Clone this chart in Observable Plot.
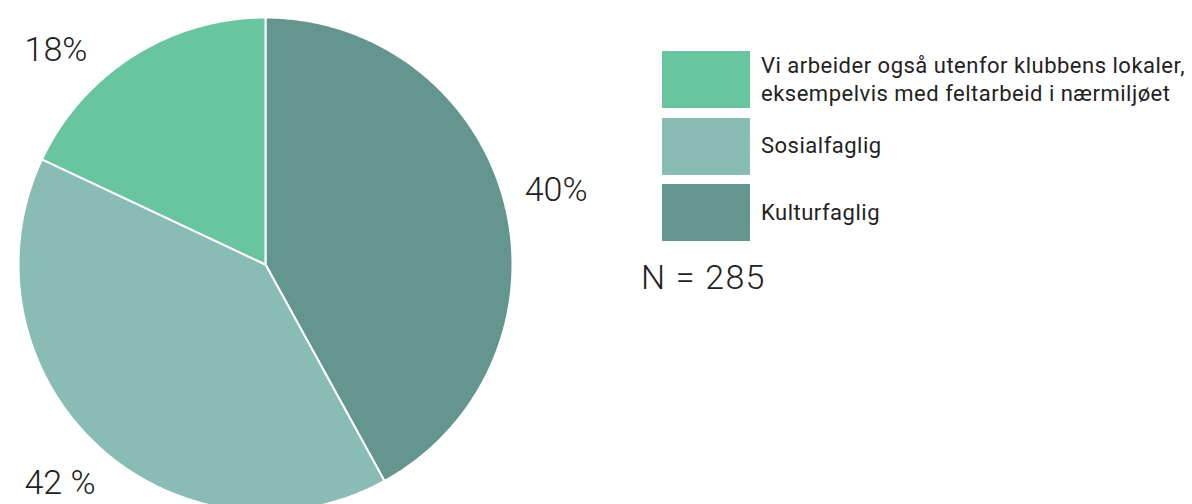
<!DOCTYPE html>
<html>
<head>
<meta charset="utf-8">
<script src="https://cdn.jsdelivr.net/npm/d3@7"></script>
<script src="https://cdn.jsdelivr.net/npm/@observablehq/plot@0.6"></script>
<style>
  html, body { margin: 0; padding: 0; background: #fff; }
  #wrap { position: relative; width: 1192px; height: 504px; overflow: hidden; font-family: Roboto, "Noto Sans", sans-serif; color: #222; }
  #legend { position: absolute; left: 662px; top: 51px; }
  .item { display: flex; align-items: center; margin-bottom: 9.5px; }
  .sw { width: 88px; height: 57px; flex: none; }
  .lab { margin-left: 11px; font-size: 22px; line-height: 28px; letter-spacing: 0.5px; color: #222; white-space: nowrap; }
  #n { position: absolute; left: 641px; top: 260px; font-size: 34px; line-height: 34px; letter-spacing: 1.2px; font-weight: 300; color: #222; white-space: nowrap; }
</style>
</head>
<body>
<div id="wrap">
  <div id="chart"></div>
  <div id="legend"></div>
  <div id="n"></div>
</div>
<script>
// Data (clockwise from 12 o'clock)
const categories = ["Kulturfaglig", "Sosialfaglig", "Vi arbeider også utenfor klubbens lokaler,\neksempelvis med feltarbeid i nærmiljøet"];
const values = [42, 40, 18];
const labels = ["40%", "42 %", "18%"];
const colors = ["#64958e", "#88bcb5", "#69c5a0"];
const legendOrder = [2, 1, 0];
const nText = "N = 285";

const total = d3.sum(values);
let acc = 0;
const slices = values.map((v, i) => {
  const a0 = acc / total * 2 * Math.PI;
  acc += v;
  const a1 = acc / total * 2 * Math.PI;
  return {i, a0, a1, mid: (a0 + a1) / 2};
});

function arcPoints(s) {
  const pts = [{x: 0, y: 0}];
  const n = Math.max(2, Math.ceil((s.a1 - s.a0) / (Math.PI / 360)));
  for (let k = 0; k <= n; k++) {
    const a = s.a0 + (s.a1 - s.a0) * k / n;
    pts.push({x: Math.sin(a), y: Math.cos(a)});
  }
  return pts;
}

const cx = 265, cy = 264, r = 247;
const labelR = 1.215;      // label circle (relative to pie radius)
const labelYMax = 0.87;    // keep labels inside the drawing area: slide along circle
const labelData = slices.map(s => {
  let a = s.mid;
  if (labelR * Math.cos(a) > labelYMax) {
    const t = Math.acos(labelYMax / labelR);
    a = Math.sin(a) < 0 ? 2 * Math.PI - t : t;
  }
  return {x: labelR * Math.sin(a), y: labelR * Math.cos(a), text: labels[s.i]};
});

const marks = slices.map(s => Plot.line(arcPoints(s), {
  x: "x", y: "y", fill: colors[s.i], stroke: "#fff", strokeWidth: 2, curve: "linear-closed"
}));
marks.push(Plot.text(labelData, {
  x: "x", y: "y", text: "text", fontSize: 34, fontWeight: 300, fill: "#222",
  fontFamily: "Roboto, 'Noto Sans', sans-serif"
}));

const chart = Plot.plot({
  width: 1192,
  height: 504,
  margin: 0,
  x: {domain: [-1, 1], range: [cx - r, cx + r], axis: null},
  y: {domain: [-1, 1], range: [cy + r, cy - r], axis: null},
  style: {background: "transparent", overflow: "visible"},
  marks
});
document.getElementById("chart").appendChild(chart);

const legend = document.getElementById("legend");
legendOrder.forEach(i => {
  const item = document.createElement("div");
  item.className = "item";
  const sw = document.createElement("div");
  sw.className = "sw";
  sw.style.background = colors[i];
  const lab = document.createElement("div");
  lab.className = "lab";
  lab.innerHTML = categories[i].split("\n").join("<br>");
  item.appendChild(sw);
  item.appendChild(lab);
  legend.appendChild(item);
});
document.getElementById("n").textContent = nText;
</script>
</body>
</html>
